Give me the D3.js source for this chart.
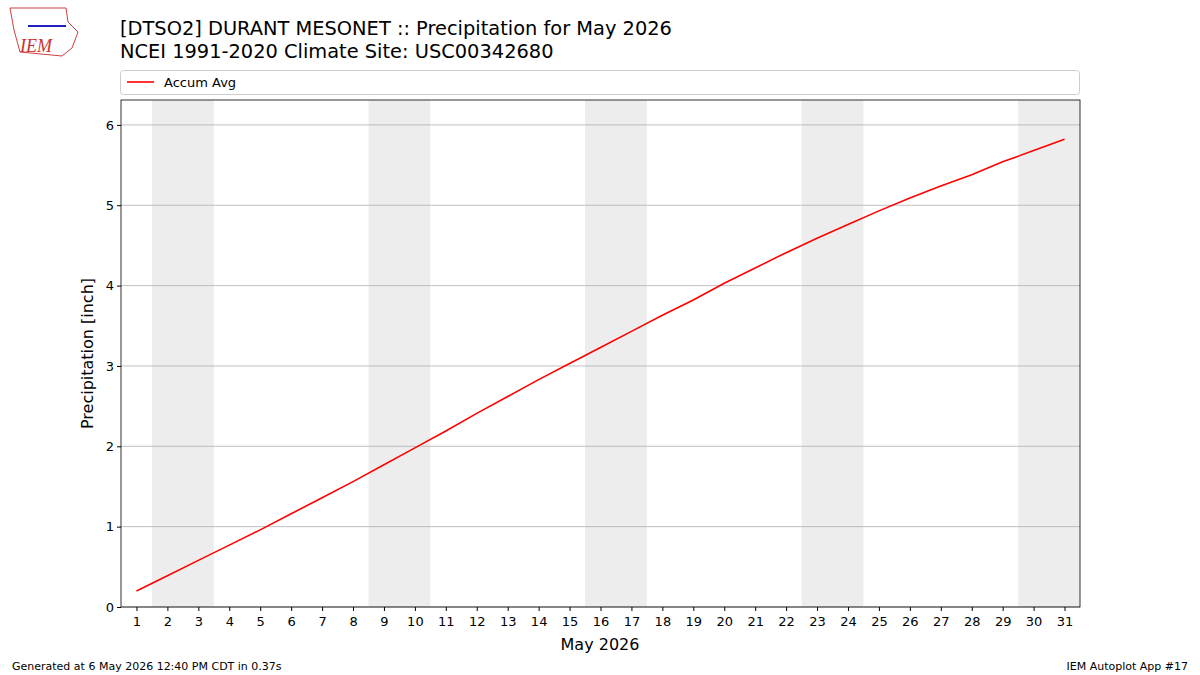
<!DOCTYPE html>
<html><head><meta charset="utf-8">
<script src="https://cdn.jsdelivr.net/npm/d3@7"></script>
<style>body{margin:0;background:#fff}svg{font-family:"DejaVu Sans",sans-serif}</style>
</head><body><svg id="c" width="1200" height="675"></svg>
<script>
const days = d3.range(1, 32);
const accumAvg = [0.20,0.39,0.58,0.77,0.96,1.16,1.36,1.56,1.77,1.98,2.19,2.41,2.62,2.83,3.03,3.23,3.43,3.63,3.82,4.03,4.22,4.41,4.59,4.76,4.93,5.09,5.24,5.38,5.54,5.68,5.82];
const weekendStarts = [2, 9, 16, 23, 30];
const yTicks = [0,1,2,3,4,5,6];

const svg = d3.select("#c");
const L=121,R=1080,T=100,B=607;
const x = d3.scaleLinear().domain([0.5,31.5]).range([L,R]);
const y = d3.scaleLinear().domain([0,6.31]).range([B,T]);

const g = svg.append("g");
g.selectAll("rect.we").data(weekendStarts).enter().append("rect")
  .attr("x",d=>x(d-0.5)).attr("y",T)
  .attr("width",d=>x(Math.min(d+1.5,31.5))-x(d-0.5)).attr("height",B-T).attr("fill","#ededed");
g.selectAll("line.grid").data(yTicks).enter().append("line")
  .attr("x1",L).attr("x2",R).attr("y1",d=>y(d)).attr("y2",d=>y(d)).attr("stroke","#b0b0b0").attr("stroke-width",0.8);
g.append("path").datum(accumAvg).attr("fill","none").attr("stroke","red").attr("stroke-width",1.6)
  .attr("d",d3.line().x((d,i)=>x(days[i])).y(d=>y(d)));
g.append("rect").attr("x",L).attr("y",T).attr("width",R-L).attr("height",B-T).attr("fill","none").attr("stroke","#000").attr("stroke-width",0.8);

const xa = svg.append("g").attr("transform",`translate(0,${B})`).call(d3.axisBottom(x).tickValues(days).tickFormat(d3.format("d")).tickSize(4).tickSizeOuter(0));
const ya = svg.append("g").attr("transform",`translate(${L},0)`).call(d3.axisLeft(y).tickValues(yTicks).tickFormat(d3.format("d")).tickSize(4).tickSizeOuter(0));
[xa,ya].forEach(a=>{a.select(".domain").remove();a.selectAll("text").attr("font-size",13).attr("font-family","DejaVu Sans").attr("fill","#000");});
xa.selectAll("text").attr("dy","0.9em");

svg.append("text").attr("x",600).attr("y",650).attr("text-anchor","middle").attr("font-size",16).text("May 2026");
svg.append("text").attr("transform",`translate(93,${(T+B)/2}) rotate(-90)`).attr("text-anchor","middle").attr("font-size",16).text("Precipitation [inch]");

svg.append("text").attr("x",120).attr("y",35).attr("font-size",19.4).text("[DTSO2] DURANT MESONET :: Precipitation for May 2026");
svg.append("text").attr("x",120).attr("y",58).attr("font-size",19.4).text("NCEI 1991-2020 Climate Site: USC00342680");

svg.append("rect").attr("x",120.5).attr("y",70.5).attr("width",959).attr("height",24).attr("rx",3).attr("fill","#fff").attr("stroke","#ccc");
svg.append("line").attr("x1",127).attr("x2",154).attr("y1",82).attr("y2",82).attr("stroke","red").attr("stroke-width",1.6);
svg.append("text").attr("x",164).attr("y",87).attr("font-size",13).text("Accum Avg");

svg.append("text").attr("x",12).attr("y",670).attr("font-size",11).text("Generated at 6 May 2026 12:40 PM CDT in 0.37s");
svg.append("text").attr("x",1188).attr("y",670).attr("text-anchor","end").attr("font-size",11).text("IEM Autoplot App #17");

const lg = svg.append("g");
lg.append("path").attr("d","M10,8 L66,8 L68,22 L78,32 L72,48 L62,56 L20,52 L14,30 Z").attr("fill","none").attr("stroke","#d04040").attr("stroke-width",1);
lg.append("line").attr("x1",28).attr("x2",66).attr("y1",26).attr("y2",26).attr("stroke","#2020c0").attr("stroke-width",2);
lg.append("text").attr("x",20).attr("y",52).attr("font-size",18).attr("font-style","italic").attr("font-family","Liberation Serif").attr("fill","#d03030").text("IEM");
</script></body></html>
